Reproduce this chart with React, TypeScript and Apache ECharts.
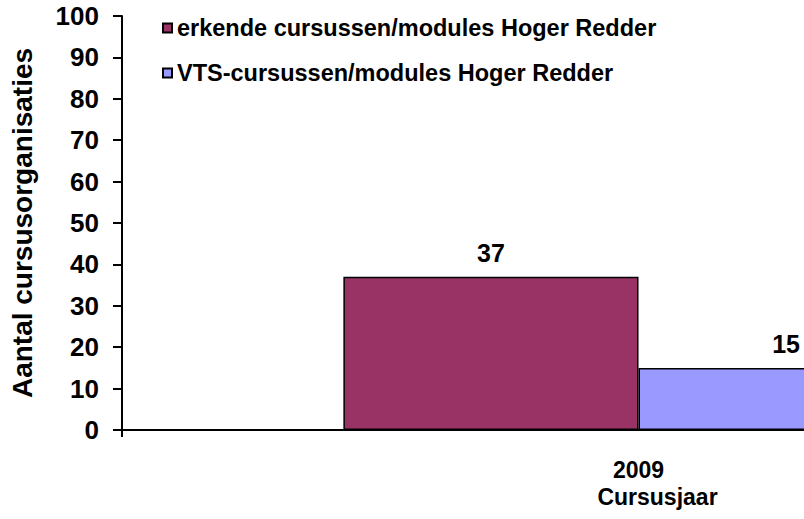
import React, { useEffect, useRef } from "react";
import * as echarts from "echarts";

const categories = ["2009"];
const seriesNames = [
  "erkende cursussen/modules Hoger Redder",
  "VTS-cursussen/modules Hoger Redder",
];
const erkendeValues = [37];
const vtsValues = [15];
const yTicks = { min: 0, max: 100, interval: 10 };

const FONT = "'Liberation Sans', Arial, sans-serif";

export default function App() {
  const ref = useRef<HTMLDivElement>(null);

  useEffect(() => {
    if (!ref.current) return;
    const chart = echarts.init(ref.current, undefined, { renderer: "svg" });
    const labelStyle = {
      show: true,
      position: "top" as const,
      distance: 11,
      color: "#000",
      fontSize: 25,
      fontWeight: "bold" as const,
      fontFamily: FONT,
    };
    chart.setOption({
      animation: false,
      backgroundColor: "#fff",
      textStyle: { fontFamily: FONT },
      grid: { left: 122, right: 5, top: 16, bottom: 89, containLabel: false },
      legend: {
        orient: "vertical",
        left: 162,
        top: 16,
        padding: 0,
        itemGap: 21,
        itemWidth: 9,
        itemHeight: 9,
        icon: "rect",
        textStyle: {
          color: "#000",
          fontSize: 23.5,
          fontWeight: "bold",
          fontFamily: FONT,
        },
        data: seriesNames,
      },
      xAxis: {
        type: "category",
        data: categories,
        axisLine: { lineStyle: { color: "#000", width: 2 } },
        axisTick: { show: true, length: 7, lineStyle: { color: "#000", width: 2 } },
        axisLabel: {
          color: "#000",
          fontSize: 23,
          fontWeight: "bold",
          fontFamily: FONT,
          margin: 28,
        },
        name: "Cursusjaar",
        nameLocation: "middle",
        nameGap: 49,
        nameTextStyle: {
          color: "#000",
          fontSize: 23,
          fontWeight: "bold",
          fontFamily: FONT,
          padding: [0, 0, 0, 38],
        },
      },
      yAxis: {
        type: "value",
        min: yTicks.min,
        max: yTicks.max,
        interval: yTicks.interval,
        splitLine: { show: false },
        axisLine: { show: true, lineStyle: { color: "#000", width: 2 } },
        axisTick: { show: true, length: 9, lineStyle: { color: "#000", width: 2 } },
        axisLabel: {
          color: "#000",
          fontSize: 26,
          fontWeight: "bold",
          fontFamily: FONT,
          margin: 23,
        },
        name: "Aantal cursusorganisaties",
        nameLocation: "middle",
        nameGap: 86,
        nameTextStyle: {
          color: "#000",
          fontSize: 28,
          fontWeight: "bold",
          fontFamily: FONT,
        },
      },
      series: [
        {
          name: seriesNames[0],
          type: "bar",
          data: erkendeValues,
          barGap: "0%",
          barCategoryGap: "42.86%",
          itemStyle: { color: "#993366", borderColor: "#000", borderWidth: 1.5 },
          label: labelStyle,
        },
        {
          name: seriesNames[1],
          type: "bar",
          data: vtsValues,
          barGap: "0%",
          barCategoryGap: "42.86%",
          itemStyle: { color: "#9999FF", borderColor: "#000", borderWidth: 1.5 },
          label: labelStyle,
        },
      ],
    });
    return () => chart.dispose();
  }, []);

  return (
    <div
      style={{
        position: "absolute",
        left: 0,
        top: 0,
        width: 804,
        height: 519,
        overflow: "hidden",
        background: "#fff",
      }}
    >
      <div ref={ref} style={{ width: 1160, height: 519 }} />
    </div>
  );
}
